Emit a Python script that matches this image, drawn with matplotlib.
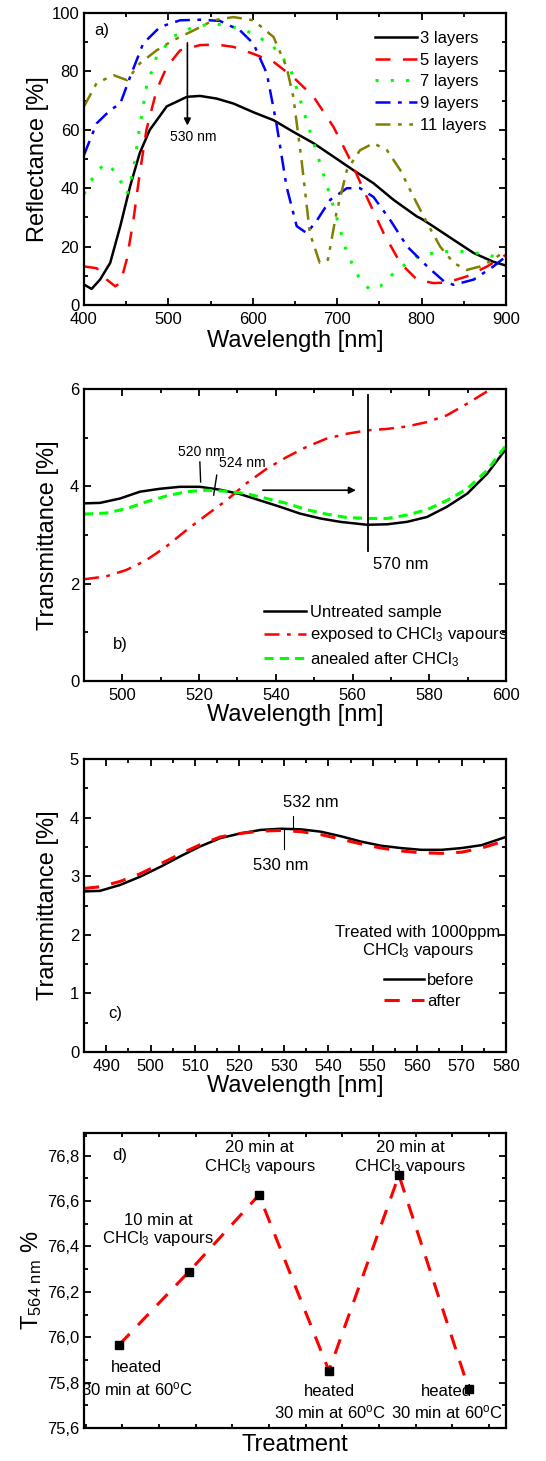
import numpy as np
import matplotlib
matplotlib.use('Agg')
import matplotlib.pyplot as plt
from matplotlib.ticker import MultipleLocator, FuncFormatter, NullFormatter

plt.rcParams['font.family'] = ['Liberation Sans', 'DejaVu Sans']
plt.rcParams['mathtext.fontset'] = 'custom'
plt.rcParams['mathtext.rm'] = 'Liberation Sans'
plt.rcParams['mathtext.it'] = 'Liberation Sans:italic'

# ---- panel a: reflectance vs wavelength
wl3 = [400, 409, 419, 431, 443, 454.5, 466, 478, 498, 522, 537.5, 557, 577, 600.8, 624.5, 648, 672,
       695.6, 719, 743, 766.8, 794.5, 800, 814, 838, 861.7, 885, 900]
r3 = [7.0, 5.5, 8.7, 14.4, 27, 40.5, 52, 60, 68, 71.3, 71.6, 70.7, 69, 66, 63.3, 59.3, 55.4,
      50.8, 46.2, 41.7, 36, 30.3, 29.5, 26.9, 22.3, 17.8, 14.8, 13.5]
wl5 = [400, 415, 427, 437, 443, 450.6, 458.5, 466, 474, 486, 498, 513.8, 537.5, 557, 577, 600.8,
       624.5, 648, 672, 695.6, 715.4, 735, 755, 774.7, 794.5, 814, 830, 853.6, 877.5, 900]
r5 = [13.2, 12.6, 8.7, 6.4, 7.5, 15.5, 29, 45, 60, 73.6, 81.5, 87.2, 89, 89.2, 88.4, 86,
      83.3, 78, 71.3, 61, 49.7, 37, 24.6, 14.4, 8.7, 7.5, 7.7, 9.8, 13.2, 17.2]
wl7 = [400, 415, 427, 439, 451, 458.5, 466, 474, 486, 506, 529.6, 553.3, 577, 600.8, 624.5, 644,
       660, 675.9, 695.6, 711.5, 727, 739, 751, 771, 794.5, 822, 853.6, 877.5, 900]
r7 = [38, 46, 48.5, 45, 38, 46, 61, 74.7, 85, 92, 95.2, 96.4, 95.2, 93, 88.4, 81.5,
      66.7, 52, 33.7, 17.8, 8.7, 5.2, 6.4, 12, 16.6, 18.3, 18.3, 17.2, 15.5]
wl9 = [400, 415, 431, 443, 454.5, 470, 490, 513.8, 537.5, 561, 585, 600.8, 616.6, 628, 640, 652,
       664, 676, 691.7, 711.5, 727, 743, 763, 783, 806.7, 826.5, 838, 861.7, 885, 900]
r9 = [51.4, 62.2, 66.7, 69, 78, 89.5, 95.2, 97.5, 97.7, 97.3, 94, 89.5, 79.3, 62.2, 40.5, 27,
      24.6, 29, 36, 40, 40, 37, 29, 20, 13.2, 8.1, 6.9, 8.7, 13.2, 16.6]
wl11 = [400, 415, 435, 451, 466, 486, 506, 529.6, 553.3, 577, 600.8, 624.5, 640, 648, 657.7, 667.6,
        679.4, 689, 699, 711.5, 727, 743, 759, 774.7, 790.5, 806.7, 822, 838, 853.6, 869.4, 885, 900]
r11 = [68, 76, 78.7, 77, 82.7, 87.2, 90.7, 94, 97.5, 98.6, 97.5, 91.8, 81.5, 71.3, 49.7, 24.6,
       14.4, 15.5, 31.4, 46.2, 53, 55.4, 53, 46.2, 37, 28, 20, 14.4, 12, 13.2, 15.5, 18.9]

# ---- panel b: transmittance, CHCl3 exposure
wlb_u = [490, 494.2, 499.4, 504.6, 509.8, 515, 520.2, 525.5, 530.7, 535.9, 541.1, 546.3, 551.6,
         556.8, 563.8, 569, 574.2, 579.4, 584.6, 589.9, 595.1, 600]
tb_u = [3.65, 3.66, 3.75, 3.89, 3.95, 3.99, 3.99, 3.93, 3.84, 3.71, 3.58, 3.44, 3.34,
        3.27, 3.21, 3.22, 3.27, 3.37, 3.58, 3.85, 4.26, 4.77]
wlb_a = [490, 495.8, 501, 506.2, 511.4, 516.7, 521.9, 527.1, 532.3, 537.6, 542.8, 548, 553.2,
         558.5, 563.8, 569, 574.2, 579.4, 584.6, 589.9, 595.1, 600]
tb_a = [3.43, 3.45, 3.54, 3.68, 3.80, 3.89, 3.92, 3.90, 3.85, 3.75, 3.65, 3.52, 3.43,
        3.36, 3.34, 3.34, 3.41, 3.52, 3.71, 3.95, 4.33, 4.84]
wlb_e = [490, 495.8, 501, 506.2, 511.4, 516.7, 521.9, 527.1, 532.3, 537.6, 542.8, 548, 553.2,
         558.5, 563.8, 569, 574.2, 579.4, 584.6, 589.9, 593.4, 596.5]
tb_e = [2.09, 2.15, 2.28, 2.48, 2.76, 3.10, 3.41, 3.71, 4.06, 4.36, 4.60, 4.81, 4.98,
        5.08, 5.15, 5.18, 5.23, 5.32, 5.46, 5.70, 5.87, 6.02]

# ---- panel c: before / after 1000 ppm
wlc = [485, 488.6, 493.1, 497.6, 502.2, 506.7, 511.2, 515.7, 520.2, 524.8, 529.3, 533.8, 538.3,
       542.9, 547.4, 551.9, 556.4, 560.9, 565.5, 570, 574.5, 580]
tc_before = [2.74, 2.75, 2.85, 2.99, 3.16, 3.34, 3.51, 3.65, 3.73, 3.79, 3.81, 3.80, 3.76,
             3.68, 3.59, 3.52, 3.48, 3.45, 3.45, 3.48, 3.53, 3.67]
tc_after = [2.79, 2.82, 2.91, 3.04, 3.21, 3.38, 3.54, 3.67, 3.73, 3.77, 3.78, 3.76, 3.71,
            3.63, 3.55, 3.48, 3.43, 3.40, 3.39, 3.41, 3.48, 3.61]

# ---- panel d: T at 564 nm over treatment cycles
step = [1, 2, 3, 4, 5, 6]
t564 = [75.966, 76.289, 76.627, 75.852, 76.714, 75.77]

fig = plt.figure(figsize=(5.46, 14.61), dpi=100)
L, W = 84 / 546, 422 / 546
ax_a = fig.add_axes([L, 1 - 305 / 1461, W, 292 / 1461])
ax_b = fig.add_axes([L, 1 - 681 / 1461, W, 292 / 1461])
ax_c = fig.add_axes([L, 1 - 1052 / 1461, W, 293 / 1461])
ax_d = fig.add_axes([L, 1 - 1428 / 1461, W, 295 / 1461])


def style(ax):
    for s in ax.spines.values():
        s.set_linewidth(1.6)
    ax.tick_params(which='both', direction='in', top=True, right=True, labelsize=12, width=1.3)
    ax.tick_params(which='major', length=5)
    ax.tick_params(which='minor', length=3)
    ax.tick_params(axis='x', which='both', pad=5)


lw = 1.8
ax = ax_a
ax.plot(wl3, r3, color='black', lw=lw, label='3 layers')
ax.plot(wl5, r5, color='#ff0000', lw=lw, ls=(0, (6, 5)), label='5 layers')
ax.plot(wl7, r7, color='#00ff00', lw=2.2, ls=(0, (1, 4)), label='7 layers')
ax.plot(wl9, r9, color='#0000ff', lw=lw, ls=(0, (6, 3, 1.5, 3)), label='9 layers')
ax.plot(wl11, r11, color='#808000', lw=lw, ls=(0, (6, 3, 1.5, 3, 1.5, 3)), label='11 layers')
ax.annotate('', xy=(522.5, 60.5), xytext=(522.5, 90.7),
            arrowprops=dict(arrowstyle='-|>', color='black', lw=1.2, mutation_scale=10))
ax.text(529.6, 57.6, '530 nm', fontsize=10, ha='center', va='center')
ax.text(412, 94, 'a)', fontsize=12, va='center')
ax.set_xlim(400, 900)
ax.set_ylim(0, 100)
ax.xaxis.set_major_locator(MultipleLocator(100))
ax.xaxis.set_minor_locator(MultipleLocator(50))
ax.yaxis.set_major_locator(MultipleLocator(20))
ax.yaxis.set_minor_locator(MultipleLocator(10))
ax.set_xlabel('Wavelength [nm]', fontsize=17, labelpad=2)
ax.set_ylabel('Reflectance [%]', fontsize=17, labelpad=2)
ax.legend(loc='upper right', frameon=False, fontsize=12, handlelength=2.5, handletextpad=0.2,
          labelspacing=0.4, bbox_to_anchor=(0.99, 0.99))
style(ax)

ax = ax_b
ax.plot(wlb_u, tb_u, color='black', lw=lw, label='Untreated sample')
ax.plot(wlb_e, tb_e, color='#ff0000', lw=lw, ls=(0, (6, 3, 1.5, 3)),
        label='exposed to CHCl$_3$ vapours')
ax.plot(wlb_a, tb_a, color='#00ff00', lw=2.2, ls=(0, (3, 2)), label='anealed after CHCl$_3$')
ax.plot([564.1, 564.1], [2.67, 5.88], color='black', lw=1.3)
ax.annotate('', xy=(561.6, 3.92), xytext=(535.9, 3.92),
            arrowprops=dict(arrowstyle='-|>', color='black', lw=1.2, mutation_scale=10))
ax.plot([520.2, 520.4], [4.50, 4.09], color='black', lw=1)
ax.plot([524.6, 523.8], [4.23, 3.82], color='black', lw=1)
ax.text(520.7, 4.71, '520 nm', fontsize=10, ha='center', va='center')
ax.text(531.2, 4.47, '524 nm', fontsize=10, ha='center', va='center')
ax.text(572.5, 2.40, '570 nm', fontsize=12, ha='center', va='center')
ax.text(499.4, 0.74, 'b)', fontsize=12, ha='center', va='center')
ax.set_xlim(490, 600)
ax.set_ylim(0, 6)
ax.xaxis.set_major_locator(MultipleLocator(20))
ax.xaxis.set_minor_locator(MultipleLocator(10))
ax.yaxis.set_major_locator(MultipleLocator(2))
ax.yaxis.set_minor_locator(MultipleLocator(1))
ax.set_xlabel('Wavelength [nm]', fontsize=17, labelpad=1)
ax.set_ylabel('Transmittance [%]', fontsize=17, labelpad=8)
ax.legend(loc='lower right', frameon=False, fontsize=12, handlelength=2.5, handletextpad=0.25,
          labelspacing=0.35, bbox_to_anchor=(1.04, -0.01))
style(ax)

ax = ax_c
ax.plot(wlc, tc_before, color='black', lw=lw, label='before')
ax.plot(wlc, tc_after, color='#ff0000', lw=2.2, ls=(0, (5, 4)), label='after')
ax.plot([532.0, 532.0], [3.82, 4.02], color='black', lw=0.8)
ax.plot([530.1, 530.1], [3.46, 3.79], color='black', lw=0.8)
ax.text(536.1, 4.25, '532 nm', fontsize=12, ha='center', va='center')
ax.text(529.3, 3.19, '530 nm', fontsize=12, ha='center', va='center')
ax.text(560.2, 1.87, 'Treated with 1000ppm\nCHCl$_3$ vapours', fontsize=12, ha='center',
        va='center', linespacing=1.1)
ax.text(492.1, 0.66, 'c)', fontsize=12, ha='center', va='center')
ax.set_xlim(485, 580)
ax.set_ylim(0, 5)
ax.xaxis.set_major_locator(MultipleLocator(10))
ax.xaxis.set_minor_locator(MultipleLocator(5))
ax.yaxis.set_major_locator(MultipleLocator(1))
ax.yaxis.set_minor_locator(MultipleLocator(0.5))
ax.set_xlabel('Wavelength [nm]', fontsize=17, labelpad=1)
ax.set_ylabel('Transmittance [%]', fontsize=17, labelpad=8)
ax.legend(loc='lower right', frameon=False, fontsize=12, handlelength=2.4, handletextpad=0.2,
          labelspacing=0.35, bbox_to_anchor=(0.961, 0.095))
style(ax)

ax = ax_d
ax.plot(step, t564, color='#ff0000', lw=2.2, ls=(0, (5, 4)), zorder=2)
ax.plot(step, t564, ls='none', marker='s', color='black', ms=6, zorder=3)
ax.text(0.91, 76.8, 'd)', fontsize=12, va='center')
ax.text(1.56, 76.47, '10 min at\nCHCl$_3$ vapours', fontsize=12, ha='center', va='center',
        linespacing=1.1)
ax.text(3.01, 76.79, '20 min at\nCHCl$_3$ vapours', fontsize=12, ha='center', va='center',
        linespacing=1.1)
ax.text(5.16, 76.79, '20 min at\nCHCl$_3$ vapours', fontsize=12, ha='center', va='center',
        linespacing=1.1)
heat = 'heated\n30 min at 60$^{\\rm o}$C'
ax.text(1.25, 75.815, heat, fontsize=12, ha='center', va='center', linespacing=1.3)
ax.text(4.01, 75.71, heat, fontsize=12, ha='center', va='center', linespacing=1.3)
ax.text(5.68, 75.71, heat, fontsize=12, ha='center', va='center', linespacing=1.3)
ax.set_xlim(0.5, 6.53)
ax.set_ylim(75.6, 76.9)
ax.xaxis.set_major_locator(MultipleLocator(0.524))
ax.xaxis.set_major_formatter(NullFormatter())
ax.yaxis.set_major_locator(MultipleLocator(0.2))
ax.yaxis.set_minor_locator(MultipleLocator(0.1))
ax.yaxis.set_major_formatter(FuncFormatter(lambda v, p: f'{v:.1f}'.replace('.', ',')))
ax.set_xlabel('Treatment', fontsize=17, labelpad=2)
ax.set_ylabel('T$_{\\rm 564\\ nm}$ %', fontsize=17, labelpad=2)
style(ax)
ax.tick_params(axis='x', which='major', length=3, pad=2)

fig.savefig('out.png', dpi=100)
